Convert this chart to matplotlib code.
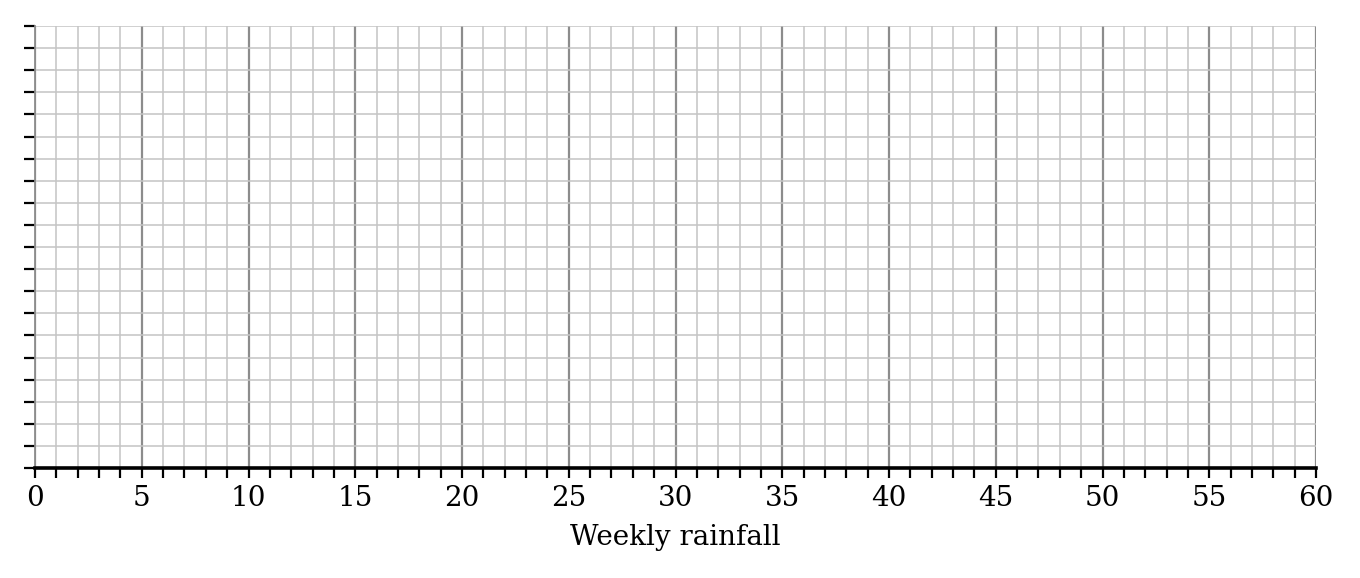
import matplotlib
matplotlib.use("Agg")
import matplotlib.pyplot as plt
from matplotlib.ticker import MultipleLocator, NullFormatter

# axis setup (blank grid, no data)
x_limits = [0, 60]
y_limits = [0, 20]
x_major_step = 5
x_minor_step = 1
y_step = 1
x_label = "Weekly rainfall"

plt.rcParams['font.family'] = ['DejaVu Serif']

fig = plt.figure(figsize=(13.6, 5.78), dpi=100)
ax = fig.add_axes([35 / 1360, 1 - 468 / 578, (1316 - 35) / 1360, (468 - 26) / 578])

ax.set_xlim(x_limits)
ax.set_ylim(y_limits)

ax.xaxis.set_major_locator(MultipleLocator(x_major_step))
ax.xaxis.set_minor_locator(MultipleLocator(x_minor_step))
ax.yaxis.set_major_locator(MultipleLocator(y_step))
ax.yaxis.set_major_formatter(NullFormatter())

ax.grid(which='minor', axis='x', color='#c4c4c4', linewidth=1.1)
ax.grid(which='major', axis='x', color='#8c8c8c', linewidth=1.6)
ax.grid(which='major', axis='y', color='#c4c4c4', linewidth=1.1)
ax.set_axisbelow(True)

for side in ['top', 'right']:
    ax.spines[side].set_visible(False)
ax.spines['left'].set_color('#8c8c8c')
ax.spines['left'].set_linewidth(1.3)
ax.spines['bottom'].set_color('black')
ax.spines['bottom'].set_linewidth(2.6)
ax.spines['bottom'].set_zorder(5)

ax.tick_params(axis='x', which='both', direction='out', length=7, width=1.6,
               color='black', labelsize=20, pad=5)
ax.tick_params(axis='y', which='major', direction='out', length=8, width=1.6,
               color='black')

ax.set_xlabel(x_label, fontsize=20, labelpad=9)

fig.savefig("out.png", dpi=100)
